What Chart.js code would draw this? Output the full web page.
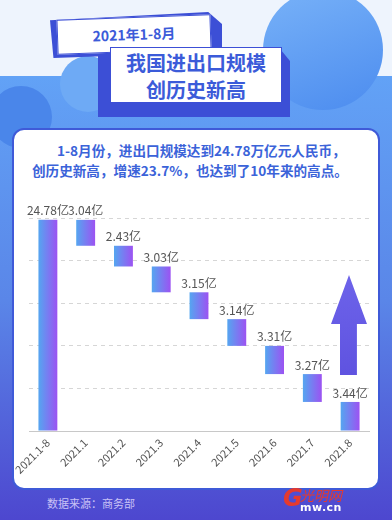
<!DOCTYPE html>
<html>
<head>
<meta charset="utf-8">
<script src="https://cdn.jsdelivr.net/npm/chart.js@4/dist/chart.umd.min.js"></script>
<style>
  body { margin: 0; }
  #page {
    position: relative; width: 392px; height: 520px; overflow: hidden;
    background: linear-gradient(to bottom, #eef4fd 0, #eef4fd 76px, #62a2f6 76px, #5a86e8 300px, #4d47cf 520px);
    font-family: 'Noto Sans CJK SC', sans-serif;
  }
  .abs { position: absolute; }
  .circle { position: absolute; border-radius: 50%; }
  #card {
    left: 12px; top: 128px; width: 364px; height: 358px;
    background: #fff; border: 2px solid #3f5ad8; border-radius: 12px;
  }
  .back { background: #3c4fd6; }
  .face { background: #fff; border: 1.5px solid #3c4fd6; box-sizing: border-box; color: #3b5bd9; font-weight: bold; text-align: center; }
  #sub { left: 32px; top: 140px; color: #3b63d9; font-weight: bold; font-size: 13.6px; line-height: 20px; white-space: nowrap; }
  #chartBox { left: 0; top: 180px; }
  #arrow {
    left: 331px; top: 275px; width: 36px; height: 100px;
    background: linear-gradient(to bottom, #6d63ea, #5f53e0);
    clip-path: polygon(50% 0, 100% 49%, 72% 49%, 72% 100%, 25% 100%, 25% 49%, 0 49%);
  }
  #source { left: 47px; top: 495px; font-size: 11px; color: #c9c2f6; }
  #logo { left: 283px; top: 484px; color: #e53a2e; }
</style>
</head>
<body>
<div id="page">
  <div class="circle" style="left:263px;top:-10px;width:120px;height:120px;background:linear-gradient(160deg,#78b2f8,#4c8cef);"></div>
  <div class="circle" style="left:60px;top:56px;width:56px;height:56px;background:#6eaaf5;"></div>
  <div class="circle" style="left:-10px;top:86px;width:62px;height:62px;background:#4a86ea;"></div>

  <div class="abs back" style="left:50px;top:12px;width:172px;height:46px;clip-path:polygon(0 18%,92% 0,100% 26%,100% 87%,2% 100%);"></div>
  <div class="abs face" style="left:57px;top:17px;width:154px;height:35px;transform:rotate(-2deg);font-size:14px;line-height:32px;">2021年1-8月</div>

  <div class="abs back" style="left:98px;top:47px;width:192px;height:70px;clip-path:polygon(0 10%,94% 0,100% 20%,100% 100%,0 100%);"></div>
  <div class="abs face" style="left:110px;top:47px;width:172px;height:56px;font-size:20px;line-height:27px;padding-top:1px;">我国进出口规模<br>创历史新高</div>

  <div id="card" class="abs"></div>
  <div id="sub" class="abs"><div style="padding-left:25px">1-8月份，进出口规模达到24.78万亿元人民币，</div><div>创历史新高，增速23.7%，也达到了10年来的高点。</div></div>

  <div id="chartBox" class="abs"><canvas id="chart" width="392" height="310"></canvas></div>
  <div id="arrow" class="abs"></div>

  <div id="source" class="abs">数据来源：商务部</div>
  <div id="logo" class="abs"><span style="font:bold italic 24px 'DejaVu Sans';">G</span><span style="position:absolute;left:17px;top:1px;font-size:14px;font-style:italic;white-space:nowrap;">光明网</span><span style="position:absolute;left:17px;top:17px;font:bold 11px 'DejaVu Sans';color:#fff;letter-spacing:0.5px;">mw.cn</span></div>
</div>

<script>
'use strict';

let categories = ['2021.1-8', '2021.1', '2021.2', '2021.3', '2021.4', '2021.5', '2021.6', '2021.7', '2021.8'];
let values = [24.78, 3.04, 2.43, 3.03, 3.15, 3.14, 3.31, 3.27, 3.44];
let unit = '亿';
let yMax = 25;
let yStep = 5;

// waterfall: total first, then each month steps down from the running top
let floating = [];
let runningTop = values[0];
floating.push([0, values[0]]);
for (let i = 1; i < values.length; i++) {
  floating.push([Math.max(runningTop - values[i], 0), runningTop]);
  runningTop = runningTop - values[i];
}

let barPercent = 0.5;

function barGradient(context) {
  let chart = context.chart;
  let area = chart.chartArea;
  if (!area || context.dataIndex === undefined) {
    return '#7a7cf2';
  }
  let cx = chart.scales.x.getPixelForValue(context.dataIndex);
  let half = (area.right - area.left) / categories.length * barPercent / 2;
  let g = chart.ctx.createLinearGradient(cx - half, 0, cx + half, 0);
  g.addColorStop(0, '#55a6f0');
  g.addColorStop(1, '#9c52f2');
  return g;
}

let valueLabels = {
  id: 'valueLabels',
  afterDatasetsDraw(chart) {
    let c = chart.ctx;
    let meta = chart.getDatasetMeta(0);
    c.save();
    c.font = '12px "Noto Sans CJK SC"';
    c.fillStyle = '#555';
    c.textAlign = 'center';
    c.textBaseline = 'bottom';
    for (let i = 0; i < meta.data.length; i++) {
      let bar = meta.data[i];
      let y = Math.min(bar.y, bar.base);
      c.fillText(values[i].toFixed(2) + unit, bar.x, y - 3);
    }
    c.restore();
  }
};

let chartCtx = document.getElementById('chart').getContext('2d');
// eslint-disable-next-line no-unused-vars
let waterfall = new Chart(chartCtx, {
  type: 'bar',
  data: {
    labels: categories,
    datasets: [{
      data: floating,
      backgroundColor: barGradient,
      borderWidth: 0,
      barPercentage: barPercent,
      categoryPercentage: 1
    }]
  },
  options: {
    responsive: false,
    animation: false,
    layout: { padding: { left: 29, right: 23, top: 38, bottom: 9 } },
    plugins: {
      legend: { display: false },
      tooltip: { enabled: false }
    },
    scales: {
      x: {
        grid: { display: false, drawTicks: false },
        border: { color: '#c8c8c8' },
        ticks: {
          color: '#555',
          font: { family: 'Noto Sans CJK SC', size: 11 },
          minRotation: 45,
          maxRotation: 45,
          autoSkip: false,
          padding: 5
        },
        afterFit: function(scale) { scale.height = 50; }
      },
      y: {
        min: 0,
        max: yMax,
        ticks: { display: false, stepSize: yStep },
        grid: { color: '#d6d6d6', drawTicks: false },
        border: { display: false, dash: [4, 4] },
        afterFit: function(scale) { scale.width = 0; }
      }
    }
  },
  plugins: [valueLabels]
});
</script>
</body>
</html>
